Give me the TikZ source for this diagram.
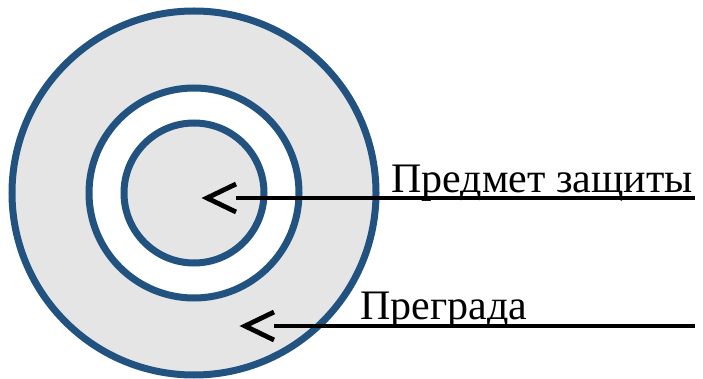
\documentclass[tikz,border=0pt]{standalone}
\usepackage{fontspec}
\setmainfont{Liberation Serif}
\usetikzlibrary{calc}
\definecolor{ringblue}{RGB}{33,82,128}
\definecolor{ringgray}{RGB}{229,229,229}
\begin{document}
\begin{tikzpicture}[x=1pt,y=-1pt,
  ring/.style={draw=ringblue,line width=7pt},
  pointer/.style={draw=black,line width=4.8pt},
  label/.style={anchor=base west,inner sep=0pt,font=\fontsize{42}{50}\selectfont}]
\useasboundingbox (0,0) rectangle (703,379);
\coordinate (c) at (194,193);
\fill[ringgray] (c) circle (182);
\fill[white] (c) circle (105);
\fill[ringgray] (c) circle (70);
\draw[ring] (c) circle (182);
\draw[ring] (c) circle (105);
\draw[ring] (c) circle (70);
% labels
\node[label] (t1) at (391,193) {Предмет защиты};
\node[label] (t2) at (360,319) {Преграда};
% pointer 1
\coordinate (a1s) at (695,198);
\coordinate (a1e) at (236,198);
\coordinate (a1tip) at (207,198);
\draw[pointer] (a1s) -- (a1e);
\draw[pointer] ($(a1tip)+(29,-14)$) -- (a1tip) -- ($(a1tip)+(29,14)$);
% pointer 2
\coordinate (a2s) at (695,326);
\coordinate (a2e) at (274,326);
\coordinate (a2tip) at (245,326);
\draw[pointer] (a2s) -- (a2e);
\draw[pointer] ($(a2tip)+(29,-14)$) -- (a2tip) -- ($(a2tip)+(29,14)$);
\end{tikzpicture}
\end{document}
